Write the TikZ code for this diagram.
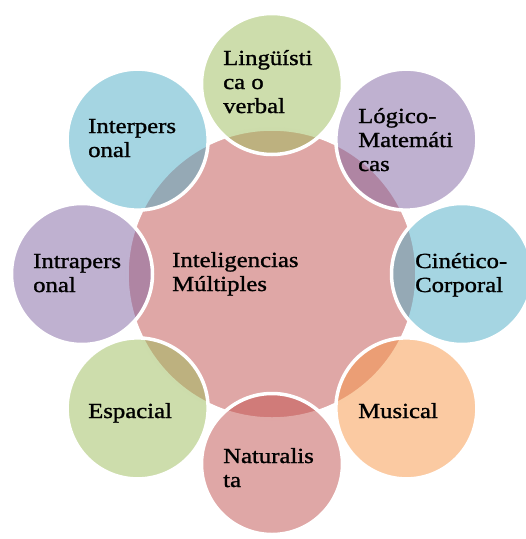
\documentclass[tikz,border=0pt]{standalone}
\usepackage{fontspec}
\setmainfont{Liberation Serif}[FakeStretch=1.15, FakeBold=1.2]

% Office theme accents
\definecolor{accRed}{HTML}{C0504D}
\definecolor{accGreen}{HTML}{9BBB59}
\definecolor{accPurple}{HTML}{8064A2}
\definecolor{accAqua}{HTML}{4BACC6}
\definecolor{accOrange}{HTML}{F79646}

\tikzset{
  bubble/.style={circle, draw=white, line width=3.5pt, fill opacity=0.5,
    text opacity=1, minimum size=#1, inner sep=0pt},
  label/.style={anchor=base west, inner sep=0pt, text=black,
    font=\fontsize{21.5}{24}\selectfont},
}

\begin{document}
\begin{tikzpicture}[x=1pt, y=-1pt]
  \useasboundingbox (0,0) rectangle (526,539);

  % hub
  \node[bubble=290pt, fill=accRed] (hub) at (272,274) {};

  % surrounding bubbles, 190pt from the hub centre
  \node[bubble=141pt, fill=accGreen]  (ling) at (272,84) {};
  \node[bubble=141pt, fill=accPurple] (logi) at (406.4,139.6) {};
  \node[bubble=141pt, fill=accAqua]   (cine) at (462,274) {};
  \node[bubble=141pt, fill=accOrange] (musi) at (406.4,408.4) {};
  \node[bubble=141pt, fill=accRed]    (natu) at (272,464) {};
  \node[bubble=141pt, fill=accGreen]  (espa) at (137.6,408.4) {};
  \node[bubble=141pt, fill=accPurple] (intra) at (82,274) {};
  \node[bubble=141pt, fill=accAqua]   (inter) at (137.6,139.6) {};

  % labels
  \node[label] (tHub) at (172,267) {\vtop{\hbox{Inteligencias}\hbox{Múltiples}}};
  \node[label] (tLing) at (223,65) {\vtop{\hbox{Lingüísti}\hbox{ca o}\hbox{verbal}}};
  \node[label] (tLogi) at (358,123) {\vtop{\hbox{Lógico-}\hbox{Matemáti}\hbox{cas}}};
  \node[label] (tCine) at (415,268) {\vtop{\hbox{Cinético-}\hbox{Corporal}}};
  \node[label] (tMusi) at (358,418) {Musical};
  \node[label] (tNatu) at (223,463) {\vtop{\hbox{Naturalis}\hbox{ta}}};
  \node[label] (tEspa) at (88,418) {Espacial};
  \node[label] (tIntra) at (33,268) {\vtop{\hbox{Intrapers}\hbox{onal}}};
  \node[label] (tInter) at (88,133) {\vtop{\hbox{Interpers}\hbox{onal}}};
\end{tikzpicture}
\end{document}
